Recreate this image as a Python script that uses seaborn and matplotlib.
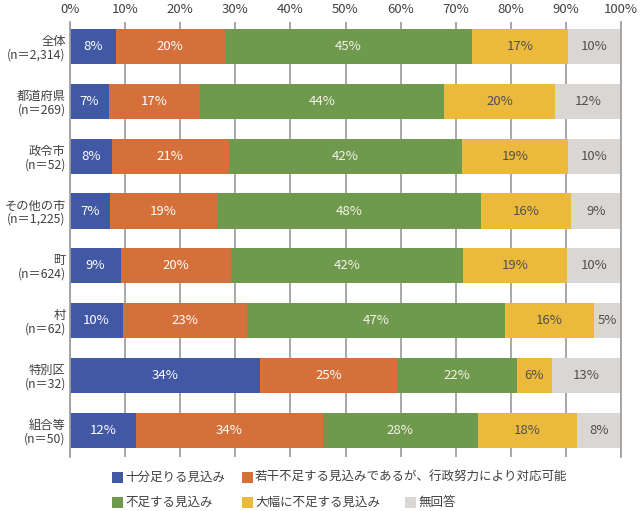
import matplotlib

matplotlib.use("Agg")

import matplotlib.patches as mpatches
import matplotlib.pyplot as plt
import numpy as np
import seaborn as sns

# ==================
# Data
# ==================

group_names = [
    "全体", "都道府県", "政令市", "その他の市",
    "町", "村", "特別区", "組合等"
]

group_n = [
    "2,314", "269", "52", "1,225",
    "624", "62", "32", "50"
]

series_names = [
    "十分足りる見込み",
    "若干不足する見込みであるが、行政努力により対応可能",
    "不足する見込み",
    "大幅に不足する見込み",
    "無回答",
]

sufficient = [8.3, 7.0, 7.6, 7.3, 9.2, 9.6, 34.4, 11.9]
slightly_short = [19.8, 16.6, 21.2, 19.3, 20.1, 22.6, 25.0, 34.0]
short = [44.9, 44.3, 42.3, 48.0, 42.0, 46.8, 21.8, 28.1]
very_short = [17.4, 20.2, 19.3, 16.3, 18.9, 16.1, 6.2, 18.0]
no_answer = [9.6, 11.9, 9.6, 9.1, 9.8, 4.9, 12.6, 8.0]

x_ticks = [0, 10, 20, 30, 40, 50, 60, 70, 80, 90, 100]

colors = ["#4158A5", "#D5703B", "#6F9A4E", "#EBB93C", "#D9D6D4"]
label_colors = ["white", "white", "#F4F4E8", "#505050", "#505050"]

# ==================
# Style
# ==================

sns.set_style("white")
plt.rcParams["font.family"] = ["Noto Sans CJK JP", "DejaVu Sans"]

text_color = "#404040"
grid_color = "#A0A0A0"

labels = [
    f"{name}\n(n＝{n})"
    for name, n in zip(group_names, group_n)
]

values = np.array(
    [sufficient, slightly_short, short, very_short, no_answer]
)
cum = values.cumsum(axis=0)

fig = plt.figure(figsize=(6.4, 5.11), dpi=100)
ax = fig.add_axes([70 / 640, 1 - 457 / 511, 551 / 640, 435 / 511])

# stacked bars: draw the longest cumulative first, shorter ones on top
for i in reversed(range(len(series_names))):
    sns.barplot(
        x=cum[i],
        y=labels,
        orient="h",
        color=colors[i],
        saturation=1,
        width=0.64,
        linewidth=0,
        ax=ax,
    )

# ==================
# Bar labels
# ==================

for i in range(len(series_names)):
    for j in range(len(labels)):
        centre = cum[i, j] - values[i, j] / 2
        ax.text(
            centre,
            j,
            f"{values[i, j]:.0f}%",
            ha="center",
            va="center",
            fontsize=9.5,
            color=label_colors[i],
        )

# ==================
# Axes
# ==================

ax.set_xlim(0, 100)
ax.set_ylim(len(labels) - 0.51, -0.45)
ax.set_xticks(x_ticks)
ax.set_xticklabels([f"{t}%" for t in x_ticks])
ax.xaxis.tick_top()
ax.set_xlabel("")
ax.set_ylabel("")

ax.tick_params(
    axis="x", length=0, pad=4, labelsize=9.5, labelcolor=text_color
)
ax.tick_params(
    axis="y", length=0, pad=3, labelsize=8.8, labelcolor=text_color
)
for tl in ax.get_yticklabels():
    tl.set_multialignment("right")
    tl.set_linespacing(1.05)

ax.set_axisbelow(True)
ax.grid(axis="x", color=grid_color, linewidth=1.3)
ax.grid(axis="y", visible=False)

for side in ["top", "bottom"]:
    ax.spines[side].set_visible(False)
for side in ["left", "right"]:
    ax.spines[side].set_color(grid_color)
    ax.spines[side].set_linewidth(1.3)

# ==================
# Legend (manual, 2 rows)
# ==================

legend_pos = [
    (112, 477), (242, 477),
    (112, 502), (242, 502), (405, 502),
]

for i, (px, py) in enumerate(legend_pos):
    fig.add_artist(
        mpatches.Rectangle(
            (px / 640, 1 - (py + 5.5) / 511),
            11 / 640,
            11 / 511,
            transform=fig.transFigure,
            facecolor=colors[i],
            edgecolor="none",
        )
    )
    fig.text(
        (px + 13) / 640,
        1 - py / 511,
        series_names[i],
        ha="left",
        va="center",
        fontsize=9,
        color=text_color,
    )

fig.savefig("out.png", dpi=100)
